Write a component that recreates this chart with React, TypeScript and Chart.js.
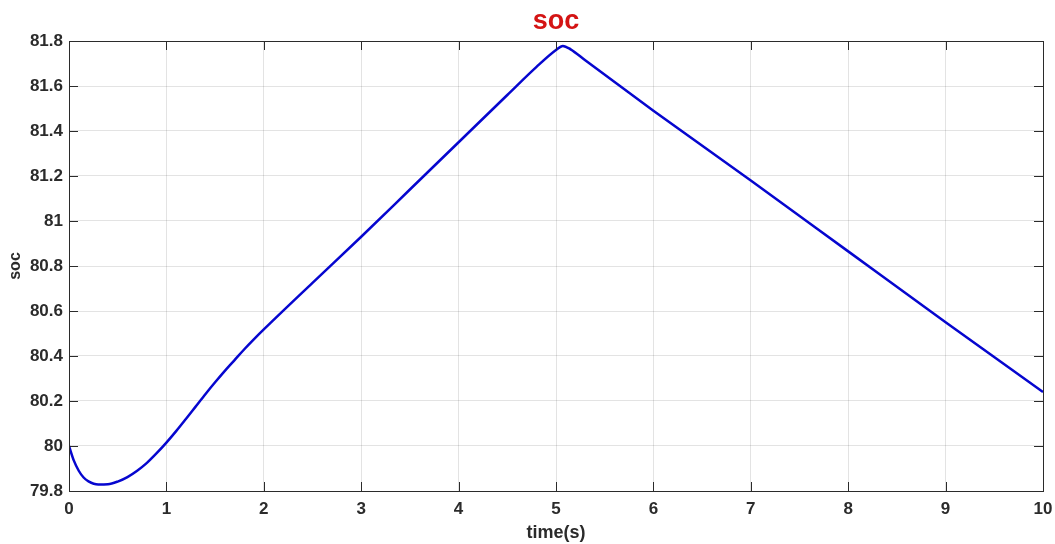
import React, { useEffect, useRef } from "react";
import { Chart, registerables } from "chart.js";

Chart.register(...registerables);

const timeValues: number[] = [
  0, 0.05, 0.1, 0.15, 0.2, 0.3, 0.4, 0.5, 0.6, 0.7, 0.8, 0.9, 1.0, 1.1, 1.2, 1.3, 1.4,
  1.5, 1.6, 1.7, 1.8, 1.9, 2.0, 2.5, 3.0, 3.5, 4.0, 4.5, 4.8, 5.0, 5.07, 5.15, 5.3,
  6.0, 7.0, 8.0, 9.0, 10.0,
];
const socValues: number[] = [
  80.0, 79.935, 79.89, 79.86, 79.843, 79.829, 79.83, 79.842, 79.862, 79.89, 79.925,
  79.968, 80.015, 80.066, 80.12, 80.175, 80.23, 80.283, 80.334, 80.382, 80.43, 80.475,
  80.518, 80.725, 80.93, 81.14, 81.35, 81.56, 81.685, 81.76, 81.778, 81.763, 81.714,
  81.49, 81.18, 80.865, 80.55, 80.24,
];
const xTickValues: number[] = [0, 1, 2, 3, 4, 5, 6, 7, 8, 9, 10];
const xTickLabels: string[] = ["0", "1", "2", "3", "4", "5", "6", "7", "8", "9", "10"];
const yTickValues: number[] = [79.8, 80, 80.2, 80.4, 80.6, 80.8, 81, 81.2, 81.4, 81.6, 81.8];
const yTickLabels: string[] = ["79.8", "80", "80.2", "80.4", "80.6", "80.8", "81", "81.2", "81.4", "81.6", "81.8"];
const titleText = "soc";
const xTitleText = "time(s)";
const yTitleText = "soc";

const FONT = "'Liberation Sans', Arial, Helvetica, sans-serif";
const AXIS_COLOR = "#2b2b2b";

const boxPlugin = {
  id: "matlabBox",
  afterDatasetsDraw(chart: any) {
    const { ctx, chartArea } = chart;
    const { left, right, top, bottom } = chartArea;
    const xs = chart.scales.x;
    const ys = chart.scales.y;
    const len = 9;
    ctx.save();
    ctx.strokeStyle = AXIS_COLOR;
    ctx.lineWidth = 1;
    ctx.beginPath();
    for (const v of xTickValues) {
      const px = Math.round(xs.getPixelForValue(v)) + 0.5;
      ctx.moveTo(px, bottom);
      ctx.lineTo(px, bottom - len);
      ctx.moveTo(px, top);
      ctx.lineTo(px, top + len);
    }
    for (const v of yTickValues) {
      const py = Math.round(ys.getPixelForValue(v)) + 0.5;
      ctx.moveTo(left, py);
      ctx.lineTo(left + len, py);
      ctx.moveTo(right, py);
      ctx.lineTo(right - len, py);
    }
    ctx.stroke();
    ctx.strokeRect(Math.round(left) + 0.5, Math.round(top) + 0.5, Math.round(right - left), Math.round(bottom - top));
    ctx.restore();
  },
};

export default function App() {
  const canvasRef = useRef<HTMLCanvasElement | null>(null);

  useEffect(() => {
    document.body.style.margin = "0";
    const canvas = canvasRef.current;
    if (!canvas) return;
    const chart = new Chart(canvas, {
      type: "line",
      data: {
        datasets: [
          {
            label: "soc",
            data: timeValues.map((t, i) => ({ x: t, y: socValues[i] })),
            borderColor: "#0606cf",
            borderWidth: 2.5,
            pointRadius: 0,
            cubicInterpolationMode: "monotone",
            fill: false,
          },
        ],
      },
      options: {
        responsive: false,
        animation: false,
        layout: { padding: { left: 0, right: 12, top: 0, bottom: 0 } },
        plugins: {
          legend: { display: false },
          tooltip: { enabled: false },
          title: {
            display: true,
            fullSize: false,
            text: titleText,
            color: "#d41414",
            font: { family: FONT, size: 27, weight: "bold", lineHeight: 1.2 },
            padding: { top: 5, bottom: 3.6 },
          },
        },
        scales: {
          x: {
            type: "linear",
            min: 0,
            max: 10,
            afterBuildTicks: (scale: any) => {
              scale.ticks = xTickValues.map((v) => ({ value: v }));
            },
            afterFit: (scale: any) => {
              scale.height = 53;
              scale.paddingLeft = 0;
              scale.paddingRight = 0;
            },
            ticks: {
              callback: (_v: any, i: number) => xTickLabels[i],
              color: AXIS_COLOR,
              font: { family: FONT, size: 17, weight: "bold", lineHeight: 1.2 },
              padding: 8,
              maxRotation: 0,
              autoSkip: false,
            },
            grid: { color: "rgba(0,0,0,0.11)", drawTicks: false, lineWidth: 1 },
            border: { display: false },
            title: {
              display: true,
              text: xTitleText,
              color: AXIS_COLOR,
              font: { family: FONT, size: 18, weight: "bold", lineHeight: 1.2 },
              padding: { top: 0, bottom: 0 },
            },
          },
          y: {
            type: "linear",
            min: 79.8,
            max: 81.8,
            afterBuildTicks: (scale: any) => {
              scale.ticks = yTickValues.map((v) => ({ value: v }));
            },
            afterFit: (scale: any) => {
              scale.width = 69;
            },
            ticks: {
              callback: (_v: any, i: number) => yTickLabels[i],
              color: AXIS_COLOR,
              font: { family: FONT, size: 17, weight: "bold", lineHeight: 1.2 },
              padding: 6,
              autoSkip: false,
            },
            grid: { color: "rgba(0,0,0,0.11)", drawTicks: false, lineWidth: 1 },
            border: { display: false },
            title: {
              display: true,
              text: yTitleText,
              color: AXIS_COLOR,
              font: { family: FONT, size: 16, weight: "bold", lineHeight: 1.2 },
              padding: { top: 6, bottom: 0 },
            },
          },
        },
      },
      plugins: [boxPlugin],
    } as any);
    return () => {
      chart.destroy();
    };
  }, []);

  return (
    <div style={{ position: "absolute", left: 0, top: 0, width: 1055, height: 544, background: "#fff" }}>
      <canvas ref={canvasRef} width={1055} height={544} />
    </div>
  );
}
